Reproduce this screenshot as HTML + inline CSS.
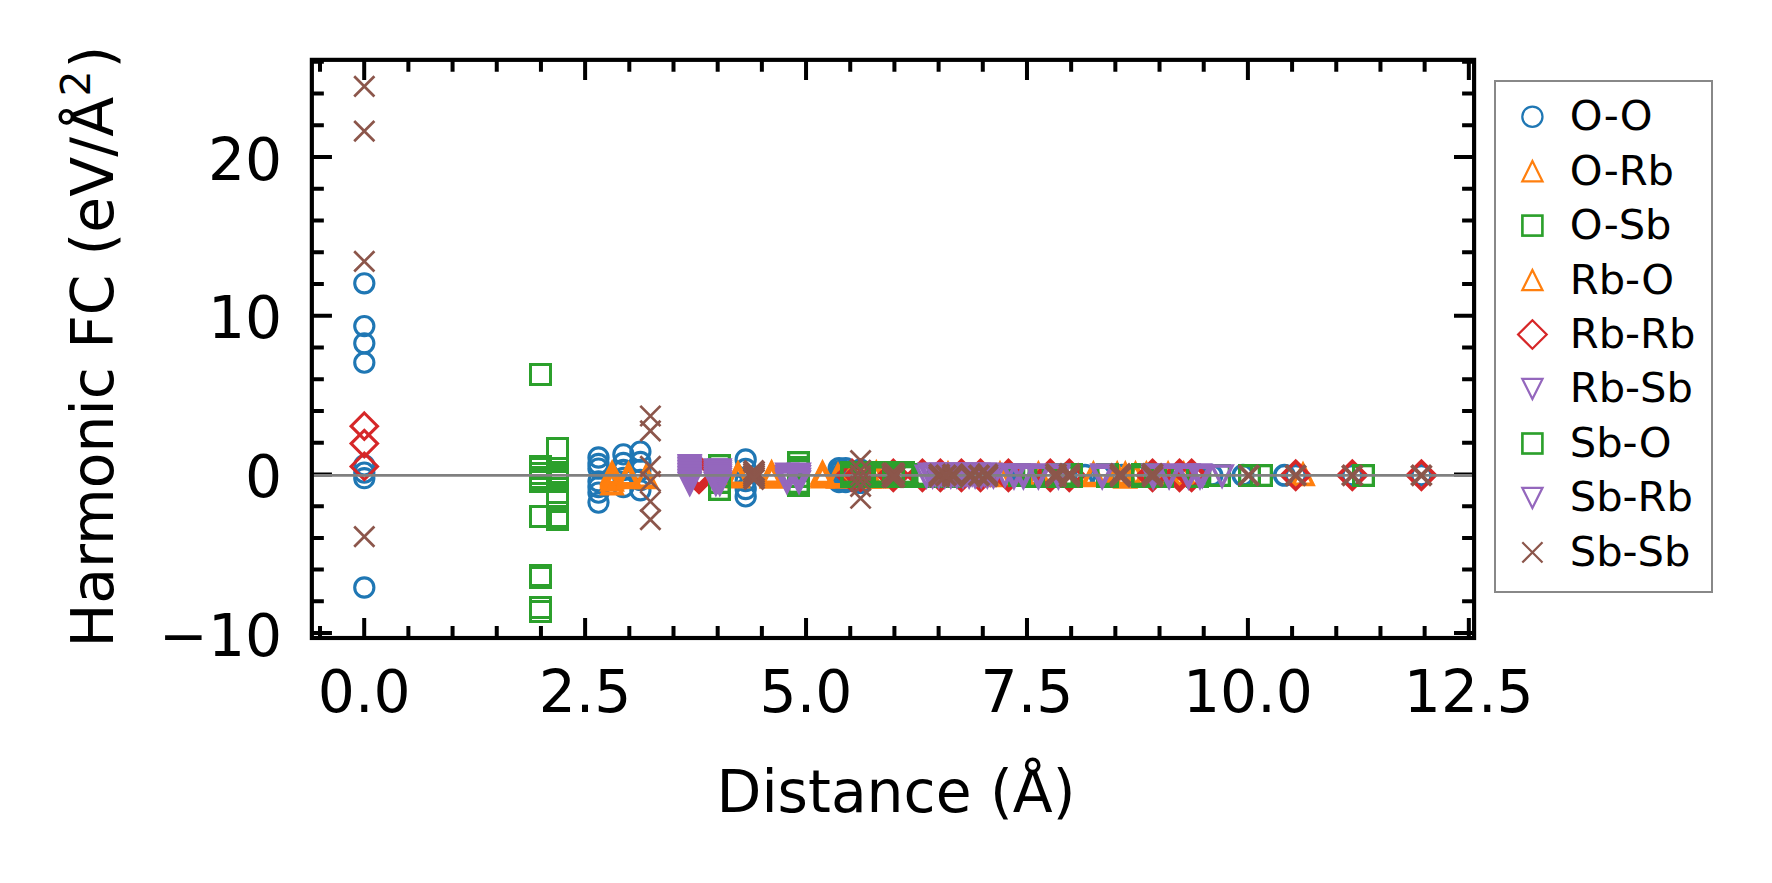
<!DOCTYPE html>
<html lang="en"><head><meta charset="utf-8"><title>Harmonic FC vs Distance</title>
<style>html,body{margin:0;padding:0;background:#fff;overflow:hidden}svg{display:block}text{font-family:"DejaVu Sans","Liberation Sans",sans-serif;fill:#000}</style></head><body>
<svg width="1772" height="883" viewBox="0 0 1772 883">
<rect width="1772" height="883" fill="#fff"/>
<defs>
<circle id="mo" r="9.75" fill="none" stroke-width="3.5"/>
<rect id="ms" x="-9.85" y="-9.85" width="19.7" height="19.7" fill="none" stroke-width="3.3" stroke-linejoin="miter"/>
<path id="mu" d="M0,-9.90L9.90,9.90L-9.90,9.90Z" fill="none" stroke-width="3.6" stroke-linejoin="miter"/>
<path id="mv" d="M0,9.90L9.90,-9.90L-9.90,-9.90Z" fill="none" stroke-width="3.6" stroke-linejoin="miter"/>
<path id="md" d="M0,-13.95L13.95,0L0,13.95L-13.95,0Z" fill="none" stroke-width="3.7" stroke-linejoin="miter"/>
<path id="mx" d="M-10.00,-10.00L10.00,10.00M-10.00,10.00L10.00,-10.00" fill="none" stroke-width="3.9" stroke-linecap="butt"/>
<circle id="moM" r="9.60" fill="none" stroke-width="3.1"/>
<rect id="msM" x="-10.0" y="-10.0" width="20" height="20" fill="none" stroke-width="3.0" stroke-linejoin="miter"/>
<path id="muM" d="M0,-10.10L10.10,10.10L-10.10,10.10Z" fill="none" stroke-width="2.7" stroke-linejoin="miter"/>
<path id="mvM" d="M0,10.10L10.10,-10.10L-10.10,-10.10Z" fill="none" stroke-width="2.7" stroke-linejoin="miter"/>
<path id="mdM" d="M0,-13.20L13.20,0L0,13.20L-13.20,0Z" fill="none" stroke-width="3.1" stroke-linejoin="miter"/>
<path id="mxM" d="M-10.10,-10.10L10.10,10.10M-10.10,10.10L10.10,-10.10" fill="none" stroke-width="2.7" stroke-linecap="butt"/>
<circle id="moL" r="10.10" fill="none" stroke-width="2.25"/>
<rect id="msL" x="-10.0" y="-10.0" width="20" height="20" fill="none" stroke-width="2.65" stroke-linejoin="miter"/>
<path id="muL" d="M0,-10.10L10.10,10.10L-10.10,10.10Z" fill="none" stroke-width="2.25" stroke-linejoin="miter"/>
<path id="mvL" d="M0,10.10L10.10,-10.10L-10.10,-10.10Z" fill="none" stroke-width="2.25" stroke-linejoin="miter"/>
<path id="mdL" d="M0,-14.28L14.28,0L0,14.28L-14.28,0Z" fill="none" stroke-width="2.25" stroke-linejoin="miter"/>
<path id="mxL" d="M-10.10,-10.10L10.10,10.10M-10.10,10.10L10.10,-10.10" fill="none" stroke-width="2.25" stroke-linecap="butt"/>
</defs>
<clipPath id="ax"><rect x="311.85" y="59.85" width="1162.25" height="578.15"/></clipPath>
<g clip-path="url(#ax)">
<g stroke="#1f77b4">
<use href="#mo" x="839.0" y="468.5"/>
<use href="#mo" x="839.0" y="472.0"/>
<use href="#mo" x="839.0" y="476.0"/>
<use href="#mo" x="839.0" y="479.0"/>
<use href="#mo" x="839.0" y="481.7"/>
<use href="#mo" x="845.7" y="468.5"/>
<use href="#mo" x="845.7" y="472.0"/>
<use href="#mo" x="845.7" y="476.0"/>
<use href="#mo" x="845.7" y="479.0"/>
<use href="#mo" x="845.7" y="481.7"/>
<use href="#mo" x="860.4" y="469.9"/>
<use href="#mo" x="860.4" y="482.6"/>
<use href="#mo" x="1005.0" y="475.3"/>
<use href="#mo" x="1023.0" y="475.3"/>
<use href="#mo" x="1085.0" y="475.3"/>
<use href="#mo" x="1100.0" y="475.3"/>
<use href="#mo" x="1122.0" y="475.3"/>
<use href="#mo" x="1137.0" y="475.3"/>
<use href="#mo" x="1212.0" y="475.3"/>
<use href="#mo" x="1243.0" y="475.3"/>
<use href="#mo" x="1284.4" y="475.3"/>
<use href="#mo" x="1295.7" y="475.3"/>
<use href="#mo" x="1352.3" y="475.3"/>
<use href="#mo" x="1421.4" y="475.3"/>
</g>
<g stroke="#1f77b4">
<use href="#moM" x="364.3" y="283.3"/>
<use href="#moM" x="364.3" y="326.1"/>
<use href="#moM" x="364.3" y="343.3"/>
<use href="#moM" x="364.3" y="362.6"/>
<use href="#moM" x="364.3" y="465.4"/>
<use href="#moM" x="364.3" y="472.6"/>
<use href="#moM" x="364.3" y="478.2"/>
<use href="#moM" x="364.3" y="587.5"/>
<use href="#moM" x="598.5" y="457.5"/>
<use href="#moM" x="598.5" y="464.0"/>
<use href="#moM" x="598.5" y="468.6"/>
<use href="#moM" x="598.5" y="481.3"/>
<use href="#moM" x="598.5" y="487.0"/>
<use href="#moM" x="598.5" y="492.6"/>
<use href="#moM" x="598.5" y="502.6"/>
<use href="#moM" x="623.4" y="454.4"/>
<use href="#moM" x="623.4" y="463.0"/>
<use href="#moM" x="623.4" y="470.0"/>
<use href="#moM" x="623.4" y="478.0"/>
<use href="#moM" x="623.4" y="487.0"/>
<use href="#moM" x="640.4" y="451.6"/>
<use href="#moM" x="640.4" y="462.0"/>
<use href="#moM" x="640.4" y="470.0"/>
<use href="#moM" x="640.4" y="480.0"/>
<use href="#moM" x="640.4" y="490.3"/>
<use href="#moM" x="745.7" y="459.5"/>
<use href="#moM" x="745.7" y="469.0"/>
<use href="#moM" x="745.7" y="481.0"/>
<use href="#moM" x="745.7" y="489.0"/>
<use href="#moM" x="745.7" y="496.4"/>
</g>
<g stroke="#ff7f0e">
<use href="#mu" x="612.1" y="472.9"/>
<use href="#mu" x="612.1" y="474.5"/>
<use href="#mu" x="612.1" y="476.0"/>
<use href="#mu" x="612.1" y="477.6"/>
<use href="#mu" x="612.1" y="480.0"/>
<use href="#mu" x="612.1" y="483.9"/>
<use href="#mu" x="628.5" y="474.0"/>
<use href="#mu" x="628.5" y="476.0"/>
<use href="#mu" x="628.5" y="477.6"/>
<use href="#mu" x="646.0" y="476.3"/>
<use href="#mu" x="646.0" y="477.6"/>
<use href="#mu" x="738.0" y="473.3"/>
<use href="#mu" x="738.0" y="475.0"/>
<use href="#mu" x="738.0" y="476.8"/>
<use href="#mu" x="771.6" y="472.5"/>
<use href="#mu" x="771.6" y="473.4"/>
<use href="#mu" x="771.6" y="474.3"/>
<use href="#mu" x="771.6" y="475.2"/>
<use href="#mu" x="771.6" y="476.1"/>
<use href="#mu" x="771.6" y="477.0"/>
<use href="#mu" x="822.5" y="472.7"/>
<use href="#mu" x="822.5" y="474.0"/>
<use href="#mu" x="822.5" y="475.4"/>
<use href="#mu" x="822.5" y="476.8"/>
<use href="#mu" x="838.0" y="475.0"/>
<use href="#mu" x="838.0" y="477.0"/>
<use href="#mu" x="869.2" y="473.5"/>
<use href="#mu" x="869.2" y="477.0"/>
<use href="#mu" x="876.3" y="472.7"/>
<use href="#mu" x="876.3" y="477.0"/>
<use href="#mu" x="852.0" y="473.6"/>
<use href="#mu" x="852.0" y="475.6"/>
<use href="#mu" x="948.0" y="473.6"/>
<use href="#mu" x="948.0" y="475.6"/>
<use href="#mu" x="1000.0" y="473.6"/>
<use href="#mu" x="1000.0" y="475.6"/>
<use href="#mu" x="1038.4" y="473.6"/>
<use href="#mu" x="1038.4" y="475.6"/>
<use href="#mu" x="1093.4" y="473.6"/>
<use href="#mu" x="1093.4" y="475.6"/>
<use href="#mu" x="1117.2" y="473.6"/>
<use href="#mu" x="1117.2" y="475.6"/>
<use href="#mu" x="1125.3" y="473.6"/>
<use href="#mu" x="1125.3" y="475.6"/>
<use href="#mu" x="1135.5" y="473.6"/>
<use href="#mu" x="1135.5" y="475.6"/>
<use href="#mu" x="1146.4" y="473.6"/>
<use href="#mu" x="1146.4" y="475.6"/>
<use href="#mu" x="1168.1" y="473.6"/>
<use href="#mu" x="1168.1" y="475.6"/>
<use href="#mu" x="1183.7" y="473.6"/>
<use href="#mu" x="1183.7" y="475.6"/>
<use href="#mu" x="1303.0" y="474.5"/>
<use href="#mu" x="1125.3" y="477.0"/>
</g>
<g stroke="#d62728">
<use href="#md" x="699.0" y="471.0"/>
<use href="#md" x="699.0" y="472.4"/>
<use href="#md" x="699.0" y="473.9"/>
<use href="#md" x="699.0" y="475.3"/>
<use href="#md" x="699.0" y="476.8"/>
<use href="#md" x="699.0" y="478.2"/>
<use href="#md" x="852.0" y="474.6"/>
<use href="#md" x="852.0" y="476.2"/>
<use href="#md" x="860.6" y="474.6"/>
<use href="#md" x="860.6" y="476.2"/>
<use href="#md" x="893.3" y="474.6"/>
<use href="#md" x="893.3" y="476.2"/>
<use href="#md" x="922.4" y="474.6"/>
<use href="#md" x="922.4" y="476.2"/>
<use href="#md" x="940.4" y="474.6"/>
<use href="#md" x="940.4" y="476.2"/>
<use href="#md" x="961.4" y="474.6"/>
<use href="#md" x="961.4" y="476.2"/>
<use href="#md" x="980.5" y="474.6"/>
<use href="#md" x="980.5" y="476.2"/>
<use href="#md" x="1008.4" y="474.6"/>
<use href="#md" x="1008.4" y="476.2"/>
<use href="#md" x="1050.3" y="474.6"/>
<use href="#md" x="1050.3" y="476.2"/>
<use href="#md" x="1069.3" y="474.6"/>
<use href="#md" x="1069.3" y="476.2"/>
<use href="#md" x="1152.5" y="474.6"/>
<use href="#md" x="1152.5" y="476.2"/>
<use href="#md" x="1179.5" y="474.6"/>
<use href="#md" x="1179.5" y="476.2"/>
<use href="#md" x="1191.6" y="474.6"/>
<use href="#md" x="1191.6" y="476.2"/>
<use href="#md" x="1295.7" y="475.3"/>
<use href="#md" x="1352.3" y="475.3"/>
<use href="#md" x="1421.4" y="475.3"/>
</g>
<g stroke="#d62728">
<use href="#mdM" x="364.3" y="426.2"/>
<use href="#mdM" x="364.3" y="443.6"/>
<use href="#mdM" x="364.3" y="466.4"/>
</g>
<g stroke="#2ca02c">
<use href="#ms" x="719.5" y="465.5"/>
<use href="#ms" x="719.5" y="471.5"/>
<use href="#ms" x="719.5" y="476.5"/>
<use href="#ms" x="719.5" y="482.5"/>
<use href="#ms" x="719.5" y="489.5"/>
<use href="#ms" x="798.5" y="462.5"/>
<use href="#ms" x="798.5" y="467.5"/>
<use href="#ms" x="798.5" y="470.5"/>
<use href="#ms" x="798.5" y="476.5"/>
<use href="#ms" x="798.5" y="482.5"/>
<use href="#ms" x="798.5" y="485.5"/>
<use href="#ms" x="851.5" y="472.5"/>
<use href="#ms" x="851.5" y="474.5"/>
<use href="#ms" x="851.5" y="475.5"/>
<use href="#ms" x="851.5" y="476.5"/>
<use href="#ms" x="864.5" y="472.5"/>
<use href="#ms" x="864.5" y="474.5"/>
<use href="#ms" x="864.5" y="475.5"/>
<use href="#ms" x="864.5" y="476.5"/>
<use href="#ms" x="876.5" y="472.5"/>
<use href="#ms" x="876.5" y="474.5"/>
<use href="#ms" x="876.5" y="475.5"/>
<use href="#ms" x="876.5" y="476.5"/>
<use href="#ms" x="882.5" y="472.5"/>
<use href="#ms" x="882.5" y="474.5"/>
<use href="#ms" x="882.5" y="475.5"/>
<use href="#ms" x="882.5" y="476.5"/>
<use href="#ms" x="893.5" y="472.5"/>
<use href="#ms" x="893.5" y="474.5"/>
<use href="#ms" x="893.5" y="475.5"/>
<use href="#ms" x="893.5" y="476.5"/>
<use href="#ms" x="903.5" y="472.5"/>
<use href="#ms" x="903.5" y="474.5"/>
<use href="#ms" x="903.5" y="475.5"/>
<use href="#ms" x="903.5" y="476.5"/>
<use href="#ms" x="926.5" y="474.5"/>
<use href="#ms" x="926.5" y="476.5"/>
<use href="#ms" x="938.5" y="474.5"/>
<use href="#ms" x="938.5" y="476.5"/>
<use href="#ms" x="951.5" y="474.5"/>
<use href="#ms" x="951.5" y="476.5"/>
<use href="#ms" x="1019.5" y="474.5"/>
<use href="#ms" x="1019.5" y="475.5"/>
<use href="#ms" x="1033.5" y="476.5"/>
<use href="#ms" x="1045.5" y="476.5"/>
<use href="#ms" x="1155.5" y="476.5"/>
<use href="#ms" x="1162.5" y="476.5"/>
<use href="#ms" x="1197.5" y="476.5"/>
<use href="#ms" x="1062.5" y="474.5"/>
<use href="#ms" x="1062.5" y="476.5"/>
<use href="#ms" x="1071.5" y="474.5"/>
<use href="#ms" x="1071.5" y="476.5"/>
<use href="#ms" x="1107.5" y="474.5"/>
<use href="#ms" x="1107.5" y="476.5"/>
<use href="#ms" x="1142.5" y="474.5"/>
<use href="#ms" x="1142.5" y="476.5"/>
<use href="#ms" x="1219.5" y="475.5"/>
<use href="#ms" x="1249.5" y="475.5"/>
<use href="#ms" x="1261.5" y="475.5"/>
<use href="#ms" x="1363.5" y="475.5"/>
</g>
<g stroke="#2ca02c">
<use href="#msM" x="540.5" y="374.5"/>
<use href="#msM" x="540.5" y="466.5"/>
<use href="#msM" x="540.5" y="468.5"/>
<use href="#msM" x="540.5" y="473.5"/>
<use href="#msM" x="540.5" y="477.5"/>
<use href="#msM" x="540.5" y="479.5"/>
<use href="#msM" x="540.5" y="481.5"/>
<use href="#msM" x="540.5" y="516.5"/>
<use href="#msM" x="540.5" y="575.5"/>
<use href="#msM" x="540.5" y="577.5"/>
<use href="#msM" x="540.5" y="607.5"/>
<use href="#msM" x="540.5" y="611.5"/>
<use href="#msM" x="557.5" y="448.5"/>
<use href="#msM" x="557.5" y="468.5"/>
<use href="#msM" x="557.5" y="472.5"/>
<use href="#msM" x="557.5" y="475.5"/>
<use href="#msM" x="557.5" y="478.5"/>
<use href="#msM" x="557.5" y="481.5"/>
<use href="#msM" x="557.5" y="492.5"/>
<use href="#msM" x="557.5" y="501.5"/>
<use href="#msM" x="557.5" y="516.5"/>
<use href="#msM" x="557.5" y="519.5"/>
</g>
<g stroke="#9467bd">
<use href="#mv" x="689.7" y="465.7"/>
<use href="#mv" x="689.7" y="467.2"/>
<use href="#mv" x="689.7" y="468.7"/>
<use href="#mv" x="689.7" y="470.2"/>
<use href="#mv" x="689.7" y="471.7"/>
<use href="#mv" x="689.7" y="473.2"/>
<use href="#mv" x="689.7" y="474.7"/>
<use href="#mv" x="689.7" y="476.2"/>
<use href="#mv" x="689.7" y="477.7"/>
<use href="#mv" x="689.7" y="479.2"/>
<use href="#mv" x="689.7" y="480.7"/>
<use href="#mv" x="689.7" y="482.2"/>
<use href="#mv" x="689.7" y="483.7"/>
<use href="#mv" x="715.8" y="470.0"/>
<use href="#mv" x="715.8" y="472.0"/>
<use href="#mv" x="715.8" y="473.9"/>
<use href="#mv" x="715.8" y="475.9"/>
<use href="#mv" x="715.8" y="477.8"/>
<use href="#mv" x="715.8" y="479.8"/>
<use href="#mv" x="715.8" y="481.7"/>
<use href="#mv" x="715.8" y="483.7"/>
<use href="#mv" x="719.8" y="470.0"/>
<use href="#mv" x="719.8" y="472.0"/>
<use href="#mv" x="719.8" y="473.9"/>
<use href="#mv" x="719.8" y="475.9"/>
<use href="#mv" x="719.8" y="477.8"/>
<use href="#mv" x="719.8" y="479.8"/>
<use href="#mv" x="719.8" y="481.7"/>
<use href="#mv" x="719.8" y="483.7"/>
<use href="#mv" x="787.0" y="474.3"/>
<use href="#mv" x="787.0" y="476.8"/>
<use href="#mv" x="787.0" y="479.4"/>
<use href="#mv" x="787.0" y="481.9"/>
<use href="#mv" x="799.0" y="474.3"/>
<use href="#mv" x="799.0" y="476.8"/>
<use href="#mv" x="799.0" y="479.4"/>
<use href="#mv" x="799.0" y="481.9"/>
<use href="#mv" x="926.5" y="476.2"/>
<use href="#mv" x="929.5" y="474.2"/>
<use href="#mv" x="932.6" y="476.2"/>
<use href="#mv" x="935.6" y="474.2"/>
<use href="#mv" x="938.7" y="476.2"/>
<use href="#mv" x="941.7" y="474.2"/>
<use href="#mv" x="944.7" y="476.2"/>
<use href="#mv" x="947.8" y="474.2"/>
<use href="#mv" x="950.8" y="476.2"/>
<use href="#mv" x="953.9" y="474.2"/>
<use href="#mv" x="956.9" y="476.2"/>
<use href="#mv" x="959.9" y="474.2"/>
<use href="#mv" x="963.0" y="476.2"/>
<use href="#mv" x="966.0" y="474.2"/>
<use href="#mv" x="969.1" y="476.2"/>
<use href="#mv" x="972.1" y="474.2"/>
<use href="#mv" x="975.1" y="476.2"/>
<use href="#mv" x="978.2" y="474.2"/>
<use href="#mv" x="981.2" y="476.2"/>
<use href="#mv" x="984.3" y="474.2"/>
<use href="#mv" x="987.3" y="476.2"/>
<use href="#mv" x="990.3" y="474.2"/>
<use href="#mv" x="993.4" y="476.2"/>
<use href="#mv" x="1004.9" y="475.3"/>
<use href="#mv" x="1014.0" y="474.9"/>
<use href="#mv" x="1014.0" y="477.1"/>
<use href="#mv" x="1023.4" y="474.9"/>
<use href="#mv" x="1023.4" y="477.1"/>
<use href="#mv" x="1038.4" y="474.9"/>
<use href="#mv" x="1038.4" y="477.1"/>
<use href="#mv" x="1058.4" y="474.9"/>
<use href="#mv" x="1058.4" y="477.1"/>
<use href="#mv" x="1102.2" y="474.9"/>
<use href="#mv" x="1102.2" y="477.1"/>
<use href="#mv" x="1153.2" y="474.9"/>
<use href="#mv" x="1153.2" y="477.1"/>
<use href="#mv" x="1169.1" y="474.9"/>
<use href="#mv" x="1169.1" y="477.1"/>
<use href="#mv" x="1188.5" y="474.9"/>
<use href="#mv" x="1188.5" y="477.1"/>
<use href="#mv" x="1200.0" y="474.9"/>
<use href="#mv" x="1200.0" y="477.1"/>
<use href="#mv" x="1202.3" y="475.9"/>
<use href="#mv" x="1222.1" y="475.9"/>
</g>
</g>
<g stroke="#000" stroke-width="4.0" stroke-linecap="butt">
<path d="M320.01,638.0v-12.0M320.01,59.85v12.0"/>
<path d="M364.20,638.0v-20.1M364.20,59.85v20.1"/>
<path d="M408.38,638.0v-12.0M408.38,59.85v12.0"/>
<path d="M452.57,638.0v-12.0M452.57,59.85v12.0"/>
<path d="M496.75,638.0v-12.0M496.75,59.85v12.0"/>
<path d="M540.94,638.0v-12.0M540.94,59.85v12.0"/>
<path d="M585.12,638.0v-20.1M585.12,59.85v20.1"/>
<path d="M629.31,638.0v-12.0M629.31,59.85v12.0"/>
<path d="M673.50,638.0v-12.0M673.50,59.85v12.0"/>
<path d="M717.68,638.0v-12.0M717.68,59.85v12.0"/>
<path d="M761.87,638.0v-12.0M761.87,59.85v12.0"/>
<path d="M806.05,638.0v-20.1M806.05,59.85v20.1"/>
<path d="M850.24,638.0v-12.0M850.24,59.85v12.0"/>
<path d="M894.42,638.0v-12.0M894.42,59.85v12.0"/>
<path d="M938.61,638.0v-12.0M938.61,59.85v12.0"/>
<path d="M982.79,638.0v-12.0M982.79,59.85v12.0"/>
<path d="M1026.98,638.0v-20.1M1026.98,59.85v20.1"/>
<path d="M1071.16,638.0v-12.0M1071.16,59.85v12.0"/>
<path d="M1115.35,638.0v-12.0M1115.35,59.85v12.0"/>
<path d="M1159.53,638.0v-12.0M1159.53,59.85v12.0"/>
<path d="M1203.72,638.0v-12.0M1203.72,59.85v12.0"/>
<path d="M1247.90,638.0v-20.1M1247.90,59.85v20.1"/>
<path d="M1292.09,638.0v-12.0M1292.09,59.85v12.0"/>
<path d="M1336.27,638.0v-12.0M1336.27,59.85v12.0"/>
<path d="M1380.46,638.0v-12.0M1380.46,59.85v12.0"/>
<path d="M1424.64,638.0v-12.0M1424.64,59.85v12.0"/>
<path d="M1468.83,638.0v-20.1M1468.83,59.85v20.1"/>
<path d="M311.85,633.10h20.1M1474.1,633.10h-20.1"/>
<path d="M311.85,601.36h12.0M1474.1,601.36h-12.0"/>
<path d="M311.85,569.62h12.0M1474.1,569.62h-12.0"/>
<path d="M311.85,537.88h12.0M1474.1,537.88h-12.0"/>
<path d="M311.85,506.14h12.0M1474.1,506.14h-12.0"/>
<path d="M311.85,474.40h20.1M1474.1,474.40h-20.1"/>
<path d="M311.85,442.66h12.0M1474.1,442.66h-12.0"/>
<path d="M311.85,410.92h12.0M1474.1,410.92h-12.0"/>
<path d="M311.85,379.18h12.0M1474.1,379.18h-12.0"/>
<path d="M311.85,347.44h12.0M1474.1,347.44h-12.0"/>
<path d="M311.85,315.70h20.1M1474.1,315.70h-20.1"/>
<path d="M311.85,283.96h12.0M1474.1,283.96h-12.0"/>
<path d="M311.85,252.22h12.0M1474.1,252.22h-12.0"/>
<path d="M311.85,220.48h12.0M1474.1,220.48h-12.0"/>
<path d="M311.85,188.74h12.0M1474.1,188.74h-12.0"/>
<path d="M311.85,157.00h20.1M1474.1,157.00h-20.1"/>
<path d="M311.85,125.26h12.0M1474.1,125.26h-12.0"/>
<path d="M311.85,93.52h12.0M1474.1,93.52h-12.0"/>
<path d="M311.85,61.78h12.0M1474.1,61.78h-12.0"/>
</g>
<path d="M311.85,475.4H1474.1" stroke="#808080" stroke-width="2.9"/>
<g clip-path="url(#ax)">
<g stroke="#8c564b">
<use href="#mx" x="754.0" y="471.0"/>
<use href="#mx" x="754.0" y="473.0"/>
<use href="#mx" x="754.0" y="475.0"/>
<use href="#mx" x="754.0" y="477.0"/>
<use href="#mx" x="754.0" y="479.0"/>
<use href="#mx" x="892.4" y="473.5"/>
<use href="#mx" x="892.4" y="477.0"/>
<use href="#mx" x="894.4" y="473.5"/>
<use href="#mx" x="894.4" y="477.0"/>
<use href="#mx" x="939.3" y="474.4"/>
<use href="#mx" x="939.3" y="476.4"/>
<use href="#mx" x="952.9" y="474.4"/>
<use href="#mx" x="952.9" y="476.4"/>
<use href="#mx" x="970.4" y="474.4"/>
<use href="#mx" x="970.4" y="476.4"/>
<use href="#mx" x="987.4" y="474.4"/>
<use href="#mx" x="987.4" y="476.4"/>
<use href="#mx" x="946.0" y="475.3"/>
<use href="#mx" x="979.0" y="475.3"/>
<use href="#mx" x="1056.0" y="474.0"/>
<use href="#mx" x="1056.0" y="476.6"/>
<use href="#mx" x="1069.6" y="474.0"/>
<use href="#mx" x="1069.6" y="476.6"/>
<use href="#mx" x="1120.4" y="474.0"/>
<use href="#mx" x="1120.4" y="476.6"/>
<use href="#mx" x="1152.5" y="474.0"/>
<use href="#mx" x="1152.5" y="476.6"/>
<use href="#mx" x="1248.7" y="475.3"/>
<use href="#mx" x="1295.7" y="475.3"/>
<use href="#mx" x="1352.3" y="475.3"/>
<use href="#mx" x="1421.4" y="475.3"/>
</g>
<g stroke="#8c564b">
<use href="#mxM" x="860.6" y="460.6"/>
<use href="#mxM" x="860.6" y="470.2"/>
<use href="#mxM" x="860.6" y="475.3"/>
<use href="#mxM" x="860.6" y="480.5"/>
<use href="#mxM" x="860.6" y="486.4"/>
<use href="#mxM" x="860.6" y="498.3"/>
</g>
<g stroke="#8c564b">
<use href="#mxM" x="364.3" y="86.4"/>
<use href="#mxM" x="364.3" y="131.1"/>
<use href="#mxM" x="364.3" y="261.4"/>
<use href="#mxM" x="364.3" y="536.6"/>
<use href="#mxM" x="650.4" y="416.0"/>
<use href="#mxM" x="650.4" y="430.9"/>
<use href="#mxM" x="650.4" y="466.4"/>
<use href="#mxM" x="650.4" y="481.3"/>
<use href="#mxM" x="650.4" y="501.5"/>
<use href="#mxM" x="650.4" y="519.6"/>
</g>
</g>
<rect x="311.85" y="59.85" width="1162.25" height="578.15" fill="none" stroke="#000" stroke-width="4.15" stroke-linejoin="miter"/>
<text x="364.2" y="711.7" font-size="58.33" text-anchor="middle">0.0</text>
<text x="585.1" y="711.7" font-size="58.33" text-anchor="middle">2.5</text>
<text x="806.0" y="711.7" font-size="58.33" text-anchor="middle">5.0</text>
<text x="1027.0" y="711.7" font-size="58.33" text-anchor="middle">7.5</text>
<text x="1247.9" y="711.7" font-size="58.33" text-anchor="middle">10.0</text>
<text x="1468.8" y="711.7" font-size="58.33" text-anchor="middle">12.5</text>
<text x="282.2" y="179.6" font-size="58.33" text-anchor="end">20</text>
<text x="282.2" y="338.3" font-size="58.33" text-anchor="end">10</text>
<text x="282.2" y="497.0" font-size="58.33" text-anchor="end">0</text>
<text x="282.2" y="655.7" font-size="58.33" text-anchor="end">−10</text>
<text x="896.0" y="812.2" font-size="58.33" text-anchor="middle">Distance (Å)</text>
<text transform="translate(113.3,346.6) rotate(-90)" font-size="58.33" text-anchor="middle">Harmonic FC <tspan dx="0.5">(eV/</tspan><tspan dx="0.4">Å</tspan><tspan font-size="40.83" dx="0.3" dy="-23.67">2</tspan><tspan dx="2.2" dy="23.67">)</tspan></text>
<rect x="1495" y="81" width="217" height="511" fill="#fff" stroke="#888" stroke-width="2"/>
<use href="#moL" x="1532.4" y="116.7" stroke="#1f77b4"/>
<text x="1569.7" y="130.1" font-size="41.67">O-O</text>
<use href="#muL" x="1532.4" y="171.2" stroke="#ff7f0e"/>
<text x="1569.7" y="184.6" font-size="41.67">O-Rb</text>
<use href="#msL" x="1532.4" y="225.6" stroke="#2ca02c"/>
<text x="1569.7" y="239.0" font-size="41.67">O-Sb</text>
<use href="#muL" x="1532.4" y="280.1" stroke="#ff7f0e"/>
<text x="1569.7" y="293.5" font-size="41.67">Rb-O</text>
<use href="#mdL" x="1532.4" y="334.5" stroke="#d62728"/>
<text x="1569.7" y="347.9" font-size="41.67">Rb-Rb</text>
<use href="#mvL" x="1532.4" y="389.0" stroke="#9467bd"/>
<text x="1569.7" y="402.4" font-size="41.67">Rb-Sb</text>
<use href="#msL" x="1532.4" y="443.5" stroke="#2ca02c"/>
<text x="1569.7" y="456.9" font-size="41.67">Sb-O</text>
<use href="#mvL" x="1532.4" y="497.9" stroke="#9467bd"/>
<text x="1569.7" y="511.3" font-size="41.67">Sb-Rb</text>
<use href="#mxL" x="1532.4" y="552.4" stroke="#8c564b"/>
<text x="1569.7" y="565.8" font-size="41.67">Sb-Sb</text>
</svg></body></html>
